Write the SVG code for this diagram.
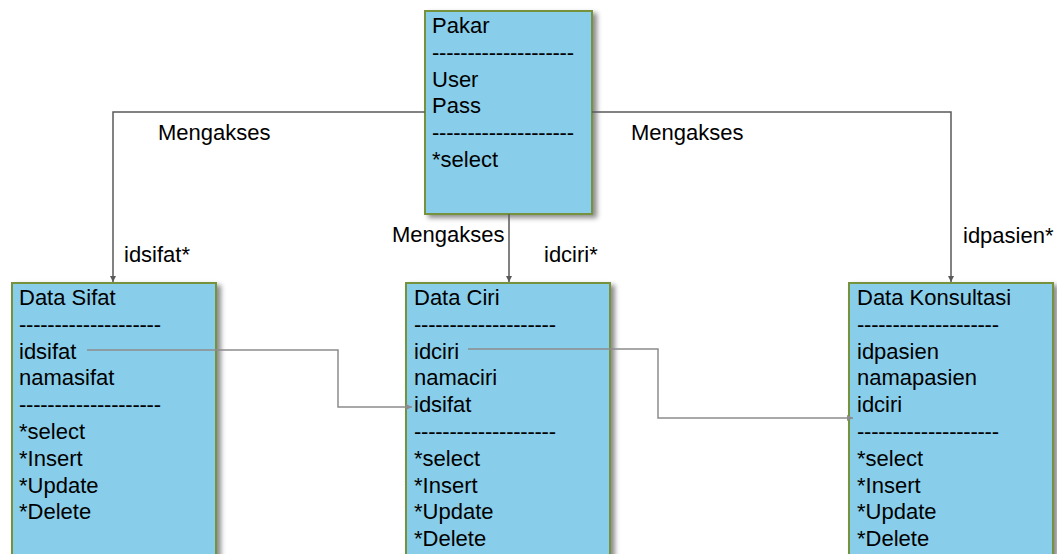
<svg xmlns="http://www.w3.org/2000/svg" width="1057" height="554" viewBox="0 0 1057 554">
<style>
  .box{fill:#88CEEA;stroke:#76923C;stroke-width:2}
  .t{font-family:"Liberation Sans",Arial,sans-serif;font-size:22px;fill:#000}
  .main{fill:none;stroke:#595959;stroke-width:1.5}
  .link{fill:none;stroke:#8C8C8C;stroke-width:1.5}
</style>
<defs>
  <filter id="sh" x="-10%" y="-10%" width="130%" height="130%">
    <feDropShadow dx="4" dy="3" stdDeviation="2.5" flood-color="#000" flood-opacity="0.45"/>
  </filter>
  <marker id="ah" viewBox="0 0 10 10" refX="10" refY="5" markerWidth="6" markerHeight="6" orient="auto" markerUnits="userSpaceOnUse">
    <path d="M0,0 L10,5 L0,10 z" fill="#595959"/>
  </marker>
  <marker id="ah2" viewBox="0 0 10 10" refX="10" refY="5" markerWidth="6" markerHeight="6" orient="auto" markerUnits="userSpaceOnUse">
    <path d="M0,0 L10,5 L0,10 z" fill="#8C8C8C"/>
  </marker>
</defs>

<g id="pakar">
  <rect class="box" x="425" y="11" width="167" height="203" filter="url(#sh)"/>
  <text class="t" x="432" y="33">Pakar</text>
  <text class="t" x="432" y="59.8" textLength="142" lengthAdjust="spacing">--------------------</text>
  <text class="t" x="432" y="86.6">User</text>
  <text class="t" x="432" y="113.4">Pass</text>
  <text class="t" x="432" y="140.2" textLength="142" lengthAdjust="spacing">--------------------</text>
  <text class="t" x="432" y="167">*select</text>
</g>

<g id="data-sifat">
  <rect class="box" x="12" y="283" width="204" height="285" filter="url(#sh)"/>
  <text class="t" x="19" y="305">Data Sifat</text>
  <text class="t" x="19" y="331.8" textLength="142" lengthAdjust="spacing">--------------------</text>
  <text class="t" x="19" y="358.6">idsifat</text>
  <text class="t" x="19" y="385.4">namasifat</text>
  <text class="t" x="19" y="412.2" textLength="142" lengthAdjust="spacing">--------------------</text>
  <text class="t" x="19" y="439">*select</text>
  <text class="t" x="19" y="465.8">*Insert</text>
  <text class="t" x="19" y="492.6">*Update</text>
  <text class="t" x="19" y="519.4">*Delete</text>
</g>

<g id="data-ciri">
  <rect class="box" x="406" y="283" width="204" height="285" filter="url(#sh)"/>
  <text class="t" x="414" y="305">Data Ciri</text>
  <text class="t" x="414" y="331.8" textLength="142" lengthAdjust="spacing">--------------------</text>
  <text class="t" x="414" y="358.6">idciri</text>
  <text class="t" x="414" y="385.4">namaciri</text>
  <text class="t" x="414" y="412.2">idsifat</text>
  <text class="t" x="414" y="439" textLength="142" lengthAdjust="spacing">--------------------</text>
  <text class="t" x="414" y="465.8">*select</text>
  <text class="t" x="414" y="492.6">*Insert</text>
  <text class="t" x="414" y="519.4">*Update</text>
  <text class="t" x="414" y="546.2">*Delete</text>
</g>

<g id="data-konsultasi">
  <rect class="box" x="849" y="283" width="204" height="285" filter="url(#sh)"/>
  <text class="t" x="857" y="305">Data Konsultasi</text>
  <text class="t" x="857" y="331.8" textLength="142" lengthAdjust="spacing">--------------------</text>
  <text class="t" x="857" y="358.6">idpasien</text>
  <text class="t" x="857" y="385.4">namapasien</text>
  <text class="t" x="857" y="412.2">idciri</text>
  <text class="t" x="857" y="439" textLength="142" lengthAdjust="spacing">--------------------</text>
  <text class="t" x="857" y="465.8">*select</text>
  <text class="t" x="857" y="492.6">*Insert</text>
  <text class="t" x="857" y="519.4">*Update</text>
  <text class="t" x="857" y="546.2">*Delete</text>
</g>

<g id="connectors">
  <path class="main" d="M425,112 H113 V282" marker-end="url(#ah)"/>
  <path class="main" d="M592,112 H951 V282" marker-end="url(#ah)"/>
  <path class="main" d="M509,214 V282" marker-end="url(#ah)"/>
  <path class="link" d="M87,350 H338 V407 H412" marker-end="url(#ah2)"/>
  <path class="link" d="M468,349 H658 V418 H853" marker-end="url(#ah2)"/>
  <text class="t" x="158" y="140">Mengakses</text>
  <text class="t" x="631" y="140">Mengakses</text>
  <text class="t" x="392" y="242">Mengakses</text>
  <text class="t" x="124" y="262">idsifat*</text>
  <text class="t" x="544" y="262">idciri*</text>
  <text class="t" x="963" y="243">idpasien*</text>
</g>
</svg>
